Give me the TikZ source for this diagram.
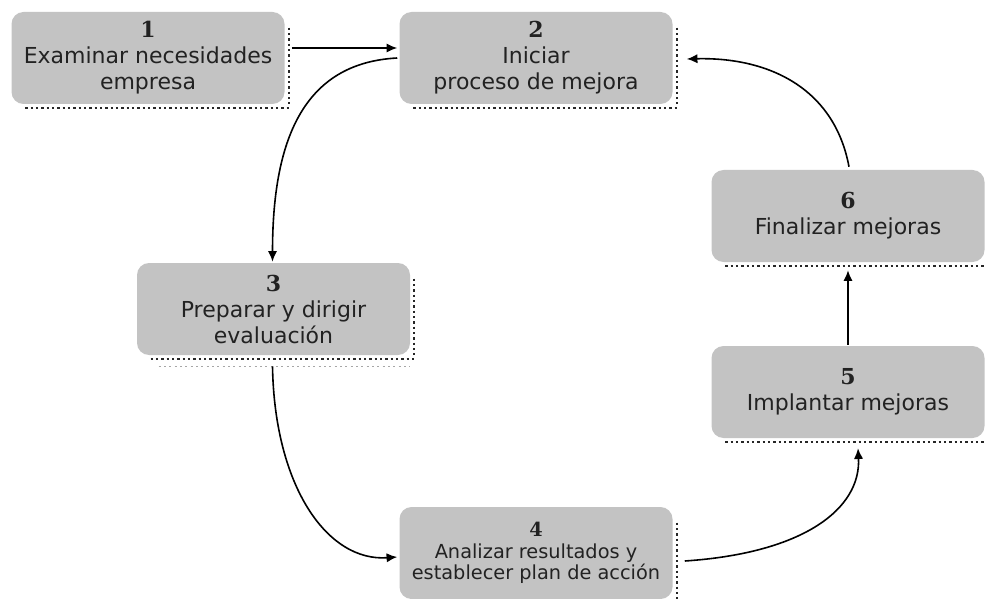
\documentclass[tikz,border=0pt]{standalone}
\usepackage{fontspec}
\setmainfont{DejaVu Sans}
\newfontfamily\numfont{DejaVu Serif}
\usetikzlibrary{arrows.meta,calc}
\definecolor{boxgray}{HTML}{C3C3C3}
\definecolor{inkgray}{HTML}{222222}
\tikzset{
  stepbox/.style={rectangle, rounded corners=9pt, fill=boxgray, draw=none,
    minimum width=273*0.75pt, minimum height=92*0.75pt, inner sep=0pt,
    align=center, text=inkgray, font=\fontsize{16.5}{19.5}\selectfont},
  shadowline/.style={line width=1.7pt, dash pattern=on 1.7pt off 2.3pt, draw=black!85},
  faintline/.style={line width=1.1pt, dash pattern=on 1.4pt off 2.6pt, draw=black!35},
  flow/.style={line width=1.2pt, draw=black, -{Latex[length=8pt,width=7pt]}}
}
\newcommand{\stepnum}[1]{{\numfont\bfseries #1}}
\begin{document}
\begin{tikzpicture}[x=0.75pt,y=-0.75pt]
\useasboundingbox (0,0) rectangle (985,599);

% process steps
\node[stepbox] (b1) at (148,58) {\stepnum{1}\\Examinar necesidades\\empresa};
\node[stepbox] (b2) at (536,58) {\stepnum{2}\\Iniciar\\proceso de mejora};
\node[stepbox] (b3) at (273.5,309) {\stepnum{3}\\Preparar y dirigir\\evaluación};
\node[stepbox, font=\fontsize{14.5}{16}\selectfont] (b4) at (536,553) {\stepnum{4}\\Analizar resultados y\\establecer plan de acción};
\node[stepbox] (b5) at (848,392) {\stepnum{5}\\Implantar mejoras};
\node[stepbox] (b6) at (848,216) {\stepnum{6}\\Finalizar mejoras};

% dotted shadow edges
\foreach \b in {b1,b2,b3,b4}{
  \draw[shadowline] ($(\b.north east)+(4,16)$) -- ($(\b.south east)+(4,0)$);
}
\foreach \b in {b1,b2,b3,b5,b6}{
  \draw[shadowline] ($(\b.south west)+(14,4)$) -- ($(\b.south east)+(6,4)$);
}
\draw[faintline] ($(b3.south west)+(22,11)$) -- ($(b3.south east)+(0,11)$);

% connectors
\coordinate (s1) at ($(b1.east)+(7,-10)$);
\coordinate (e1) at ($(b2.west)+(-2,-10)$);
\draw[flow] (s1) -- (e1);

\coordinate (s2) at ($(b2.west)+(-2,0)$);
\coordinate (e2) at ($(b3.north)+(-1,-1)$);
\draw[flow] (s2) .. controls +(-95,5) and +(0,-120) .. (e2);

\coordinate (s3) at ($(b3.south)+(-1,11)$);
\coordinate (e3) at ($(b4.west)+(-2,4)$);
\draw[flow] (s3) .. controls +(2,120) and +(-70,5) .. (e3);

\coordinate (s4) at ($(b4.east)+(12,8)$);
\coordinate (e4) at ($(b5.south)+(10,10)$);
\draw[flow] (s4) .. controls +(120,-8) and +(3,60) .. (e4);

\coordinate (s5) at ($(b5.north)+(0,-1)$);
\coordinate (e5) at ($(b6.south)+(0,8)$);
\draw[flow] (s5) -- (e5);

\coordinate (s6) at ($(b6.north)+(1,-3)$);
\coordinate (e6) at ($(b2.east)+(14,1)$);
\draw[flow] (s6) .. controls +(-15,-80) and +(80,-2) .. (e6);
\end{tikzpicture}
\end{document}
